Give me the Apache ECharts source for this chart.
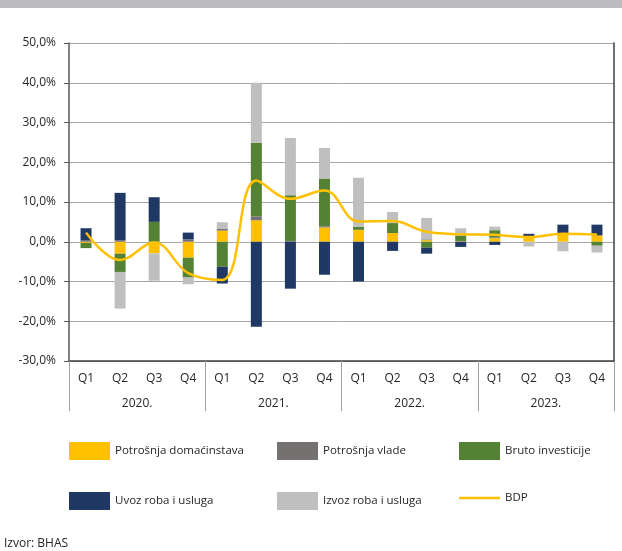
<!DOCTYPE html>
<html>
<head>
<meta charset="utf-8">
<script src="https://cdn.jsdelivr.net/npm/echarts@6/dist/echarts.min.js"></script>
<style>
  body { margin: 0; background: #fff; }
  #chart { width: 622px; height: 551px; }
</style>
</head>
<body>
<div id="chart"></div>
<script>
// kvartali i godine
var quarters = ['Q1', 'Q2', 'Q3', 'Q4', 'Q1', 'Q2', 'Q3', 'Q4', 'Q1', 'Q2', 'Q3', 'Q4', 'Q1', 'Q2', 'Q3', 'Q4']
var years = ['2020.', '2021.', '2022.', '2023.']

// doprinosi rastu BDP-a (procentni poeni)
var potrosnjaDomacinstava = [-0.3, -3.0, -2.9, -4.0, 2.8, 5.4, 0, 3.6, 3.0, 2.2, 0.4, 0.1, 0.9, 1.3, 2.2, 1.6]
var potrosnjaVlade = [0.3, 0.4, 0, 0.6, 0.4, 1.0, 0.2, 0.3, 0, 0, 0.2, 0.1, 0.2, 0, 0, 0]
var brutoInvesticije = [-1.3, -4.6, 5.0, -5.0, -6.3, 18.5, 11.5, 12.0, 0.8, 2.5, -1.5, 1.4, 1.8, 0, 0, -1.0]
var uvoz = [3.1, 11.9, 6.2, 1.7, -4.2, -21.4, -11.8, -8.3, -10.0, -2.3, -1.5, -1.3, -0.8, 0.7, 2.1, 2.7]
var izvoz = [0, -9.2, -6.9, -1.7, 1.7, 15.1, 14.4, 7.7, 12.3, 2.8, 5.4, 1.8, 0.9, -1.2, -2.4, -1.7]
var bdp = [2.3, -4.6, -0.2, -7.9, -9.6, 15.4, 10.8, 12.9, 5.1, 5.2, 2.5, 1.9, 1.75, 1.2, 2.0, 1.8]

var yTicks = { min: -30, max: 50, step: 10 }

var font = 'Open Sans'
var txt = '#262626'

var chart = echarts.init(document.getElementById('chart'))

function barSeries(name, data, color) {
  return {
    name: name,
    type: 'bar',
    stack: 'ukupno',
    barWidth: 11,
    itemStyle: { color: color },
    data: data
  }
}

var legendBase = {
  orient: 'vertical',
  top: 437,
  itemWidth: 41,
  itemHeight: 18,
  itemGap: 32,
  icon: 'rect',
  textStyle: { fontFamily: font, fontSize: 11.5, color: txt }
}

// linija za BDP u legendi (bez kruzica)
var lineIcon = 'path://M0,0 L41,0 L41,2.5 L0,2.5 Z'

chart.setOption({
  animation: false,
  grid: { left: 69, right: 8, top: 43, bottom: 190 },
  legend: [
    Object.assign({ left: 64, data: ['Potrošnja domaćinstava', 'Uvoz roba i usluga'] }, legendBase),
    Object.assign({ left: 272, data: ['Potrošnja vlade', 'Izvoz roba i usluga'] }, legendBase),
    Object.assign({}, legendBase, {
      left: 454,
      data: ['Bruto investicije', { name: 'BDP', icon: lineIcon }]
    })
  ],
  xAxis: [
    {
      type: 'category',
      data: quarters,
      position: 'bottom',
      axisLine: { onZero: false, lineStyle: { color: '#404040', width: 1.5 } },
      axisTick: { show: false },
      axisLabel: { margin: 12, fontFamily: font, fontSize: 12, color: txt }
    },
    {
      type: 'category',
      data: years,
      position: 'bottom',
      axisLine: { show: false, onZero: false },
      axisTick: {
        show: true,
        length: 50,
        lineStyle: { color: '#a0a0a0' },
        interval: 0
      },
      axisLabel: { margin: 37, fontFamily: font, fontSize: 12, color: txt }
    }
  ],
  yAxis: [
    {
      type: 'value',
      min: yTicks.min,
      max: yTicks.max,
      interval: yTicks.step,
      axisLine: { show: true, lineStyle: { color: '#595959', width: 1.5 } },
      axisTick: { show: true, length: 5, lineStyle: { color: '#595959' } },
      splitLine: { lineStyle: { color: '#a6a6a6', width: 1 } },
      axisLabel: {
        margin: 13,
        fontFamily: font,
        fontSize: 12,
        color: txt,
        formatter: function (v) { return v.toFixed(1).replace('.', ',') + '%' }
      }
    },
    {
      type: 'value',
      position: 'right',
      min: yTicks.min,
      max: yTicks.max,
      interval: yTicks.step,
      axisLine: { show: true, lineStyle: { color: '#404040', width: 1.5 } },
      axisTick: { show: false },
      axisLabel: { show: false },
      splitLine: { show: false }
    }
  ],
  series: [
    barSeries('Potrošnja domaćinstava', potrosnjaDomacinstava, '#ffc000'),
    barSeries('Potrošnja vlade', potrosnjaVlade, '#767171'),
    barSeries('Bruto investicije', brutoInvesticije, '#548235'),
    barSeries('Uvoz roba i usluga', uvoz, '#1f3864'),
    barSeries('Izvoz roba i usluga', izvoz, '#bfbfbf'),
    {
      name: 'BDP',
      type: 'line',
      smooth: 0.4,
      symbol: 'none',
      lineStyle: { color: '#ffc000', width: 2.5 },
      itemStyle: { color: '#ffc000' },
      z: 5,
      data: bdp
    }
  ],
  graphic: [
    { type: 'rect', shape: { x: 0, y: 0, width: 622, height: 8 }, style: { fill: '#bcbcc0' } },
    {
      type: 'text', left: 4, top: 538,
      style: { text: 'Izvor: BHAS', fontFamily: font, fontSize: 12, fill: txt }
    }
  ]
})
</script>
</body>
</html>
